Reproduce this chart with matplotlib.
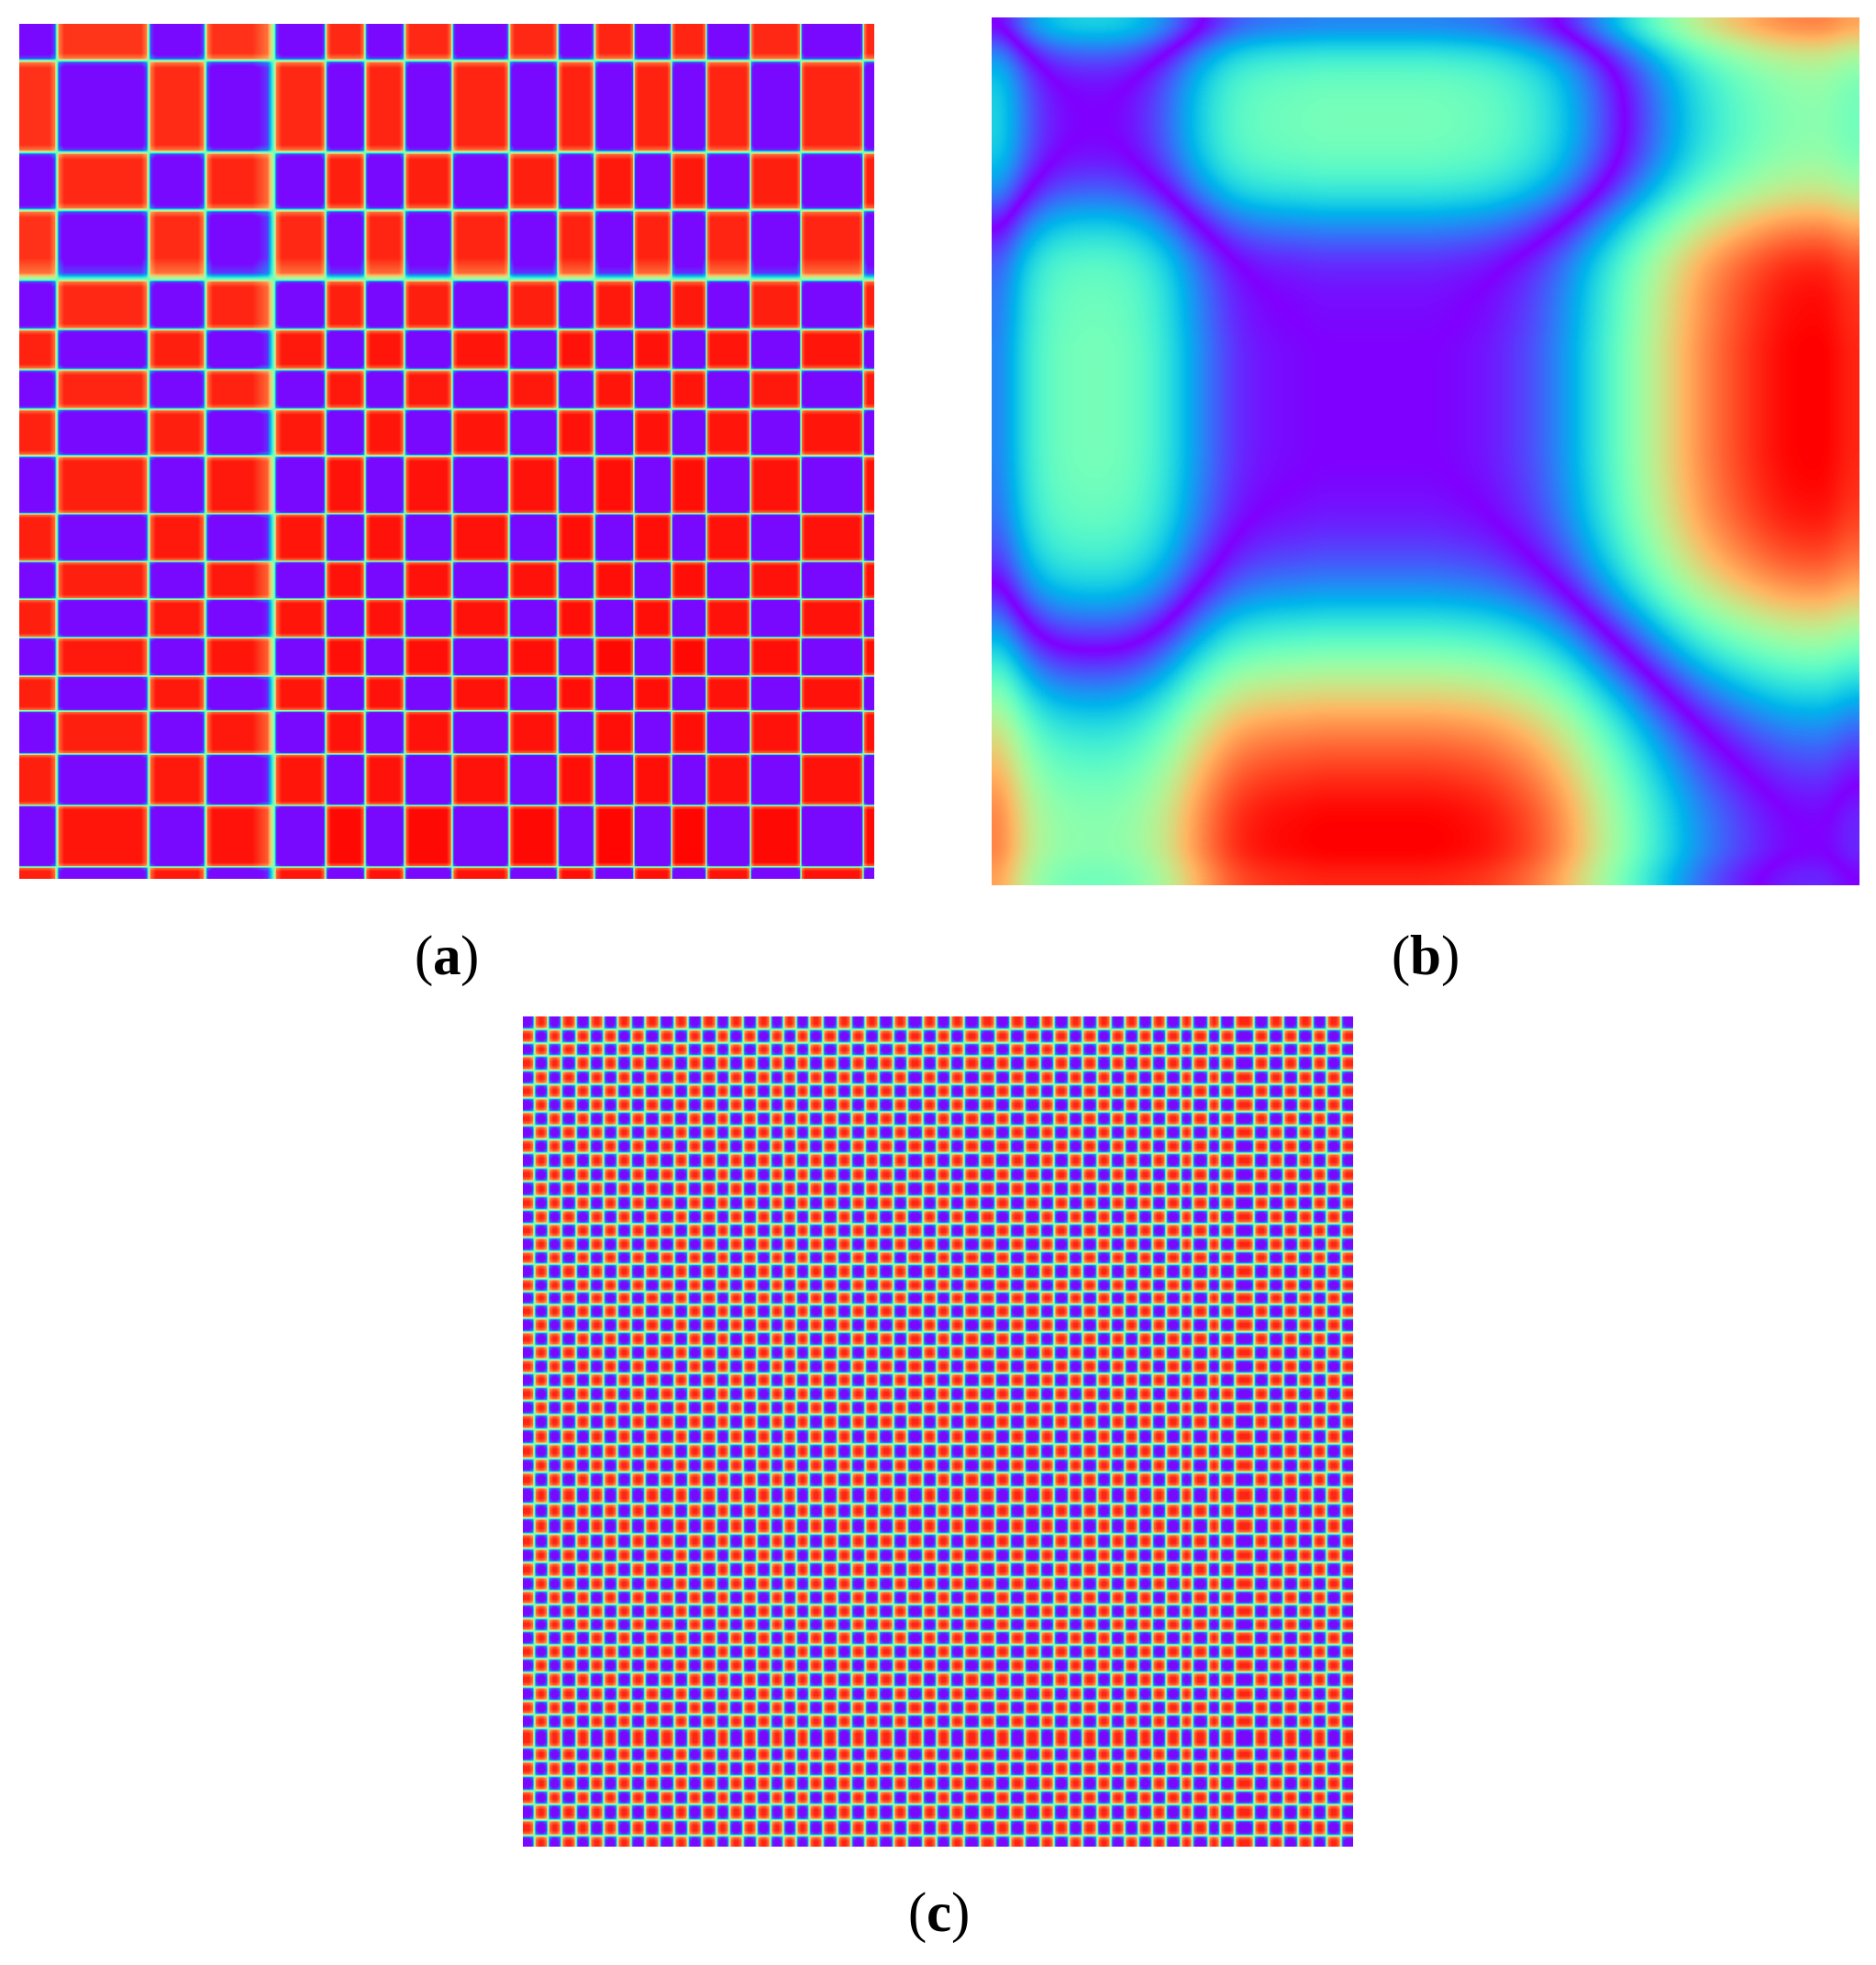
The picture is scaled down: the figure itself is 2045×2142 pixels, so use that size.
import numpy as np
import matplotlib
matplotlib.use('Agg')
import matplotlib.pyplot as plt
from matplotlib.colors import ListedColormap

W, H = 2045, 2142

# Panel (a): band edges in pixels
a_x_edges = [62, 162, 224, 299, 355, 398, 441, 493, 555, 608, 648, 691, 732, 770, 818, 873, 941]
a_y_edges = [66, 166, 229, 305, 359, 403, 446, 497, 560, 612, 653, 695, 737, 775, 822, 878, 945]
a_x_before = [2.0, 2.0, 2.0, 6.0, 1.5, 1.5, 1.5, 1.5, 1.5, 1.5, 1.5, 1.2, 1.2, 1.2, 1.2, 1.2, 1.2]
a_x_after = [2.0, 2.0, 2.0, 2.0, 1.5, 1.5, 1.5, 1.5, 1.5, 1.5, 1.5, 1.2, 1.2, 1.2, 1.2, 1.2, 1.2]
a_y_before = [2.0, 2.0, 2.0, 6.0, 1.5, 1.5, 1.5, 1.5, 1.2, 1.2, 1.2, 1.2, 1.2, 1.2, 1.2, 1.2, 1.2]
a_y_after = [2.0, 2.0, 2.0, 2.0, 1.5, 1.5, 1.5, 1.5, 1.2, 1.2, 1.2, 1.2, 1.2, 1.2, 1.2, 1.2, 1.2]
a_x_amps = [.94, .94, .95, .95, .96, .97, .97, .97, .97, .97, .98, .98, .98, .98, .97, .97, .97, .97]
a_y_amps = [.92, .93, .95, .93, .95, .97, .96, .97, .98, .98, .98, .98, .99, .98, .98, .98, 1.0, .98]

# Panel (b): the one-dimensional series behind the recurrence plot
b_series = [.17, .33, .43, .47, .48, .48, .46, .41, .33, .22, .13, .06, .03, .015,
            .01, .0, .0, .0, .0, .0, .0, .005, .015, .03, .06, .10, .16, .24,
            .34, .44, .54, .64, .73, .81, .87, .92, .96, .99, 1.0, 1.0, .95]

# Panel (c): band edges in pixels
c_x_edges = [582.5, 597.5, 612, 628, 643, 658, 673, 688, 703, 719, 735, 750, 765, 781, 795,
             810, 825, 840, 854, 868, 882, 897, 913, 928, 943, 958, 974, 989, 1006, 1021,
             1036, 1051, 1068, 1085, 1101, 1117, 1134, 1149, 1165, 1180, 1196, 1211, 1226, 1241,
             1256, 1271, 1287, 1300, 1317, 1330, 1346, 1367, 1383, 1399, 1415, 1431, 1446, 1462]
c_y_edges = [1122, 1137, 1151, 1167, 1182, 1197, 1212, 1227, 1242, 1257, 1273, 1288, 1304, 1319, 1334,
             1349, 1364, 1378, 1394, 1408, 1422, 1437, 1452, 1467, 1482, 1497, 1512, 1527, 1542, 1558,
             1574, 1590, 1605, 1621, 1639, 1655, 1672, 1688, 1703, 1719, 1734, 1749, 1764, 1778, 1793,
             1808, 1823, 1839, 1854, 1869, 1884, 1905, 1920, 1936, 1952, 1967, 1984, 2001]
c_amp = .95
c_width = 1.9

labels = ['a', 'b', 'c']

# how a band level falls off towards an edge (offset in edge widths, share of the level)
a_offsets = [4.0, 1.2, 0.0]
c_offsets = [3.0, 1.0, 0.0]
fall_levels = [1.0, 0.8, 0.0]
# the purple squares sit closer to the end of the colour map than the red ones
purple_gain = 1.2


def band_profile(edges, before, after, amps, start, stop, first_sign, offsets):
    # signed level along one axis, one value per pixel
    xp, fp = [], []
    sign = first_sign
    for i, e in enumerate(edges):
        for off, lev in zip(offsets, fall_levels):
            xp.append(e - off * before[i])
            fp.append(sign * amps[i] * lev)
        sign = -sign
        for off, lev in zip(offsets[-2::-1], fall_levels[-2::-1]):
            xp.append(e + off * after[i])
            fp.append(sign * amps[i + 1] * lev)
    return np.interp(np.arange(start, stop) + 0.5, xp, fp)


def block_matrix(py, px):
    m = np.outer(py, px)
    return np.where(m < 0, np.maximum(m * purple_gain, -0.97), m)


def add_panel(x0, y0, x1, y1):
    ax = fig.add_axes([x0 / W, 1 - y1 / H, (x1 - x0) / W, (y1 - y0) / H])
    ax.axis('off')
    return ax


def add_label(letter, x, y):
    fig.text(x / W, 1 - y / H, r'$(\mathbf{%s})$' % letter, ha='center', va='center', fontsize=44)


plt.rcParams['mathtext.fontset'] = 'custom'
plt.rcParams['mathtext.rm'] = 'Liberation Serif'
plt.rcParams['mathtext.bf'] = 'Liberation Serif:bold'

fig = plt.figure(figsize=(W / 100, H / 100), dpi=100)

# (a)
ax_a = add_panel(21, 26, 953, 958)
px = band_profile(a_x_edges, a_x_before, a_x_after, a_x_amps, 21, 953, 1, a_offsets)
py = band_profile(a_y_edges, a_y_before, a_y_after, a_y_amps, 26, 958, -1, a_offsets)
ax_a.imshow(block_matrix(py, px), cmap='rainbow', vmin=-1, vmax=1, aspect='auto', interpolation='bilinear')

# (b) signed differences, so that the zero lines stay thin after smoothing
rainbow = plt.get_cmap('rainbow')
folded = ListedColormap(rainbow(np.abs(np.linspace(-1, 1, 1025))))
series = np.array(b_series)
ax_b = add_panel(1081, 19, 2027, 965)
ax_b.imshow(np.subtract.outer(series, series), cmap=folded, vmin=-1, vmax=1, aspect='auto',
            interpolation='bicubic', interpolation_stage='data')

# (c)
ax_c = add_panel(570, 1108, 1475, 2013)
nx, ny = len(c_x_edges), len(c_y_edges)
px = band_profile(c_x_edges, [c_width] * nx, [c_width] * nx, [c_amp] * (nx + 1), 570, 1475, 1, c_offsets)
py = band_profile(c_y_edges, [c_width] * ny, [c_width] * ny, [c_amp] * (ny + 1), 1108, 2013, -1, c_offsets)
ax_c.imshow(block_matrix(py, px), cmap='rainbow', vmin=-1, vmax=1, aspect='auto', interpolation='bilinear')

add_label(labels[0], 486, 1047)
add_label(labels[1], 1553, 1047)
add_label(labels[2], 1023, 2090)

fig.savefig('out.png', dpi=100, facecolor='white')
